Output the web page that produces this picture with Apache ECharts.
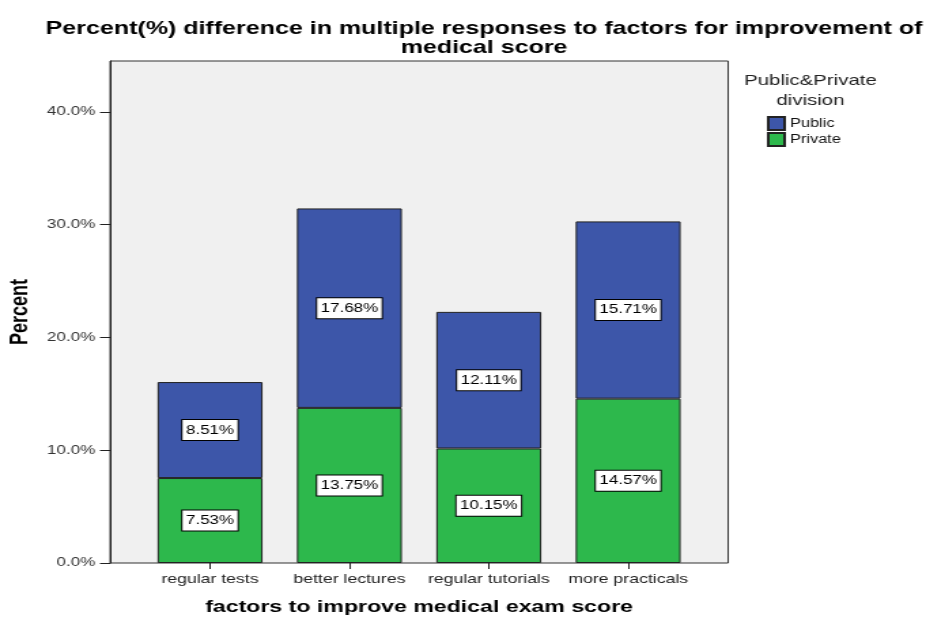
<!DOCTYPE html>
<html>
<head>
<meta charset="utf-8">
<script src="https://cdn.jsdelivr.net/npm/echarts@6/dist/echarts.min.js"></script>
<style>
  html, body { margin: 0; padding: 0; background: #ffffff; overflow: hidden; }
  /* The chart is laid out on a 681px-wide canvas and widened to 926px,
     which gives the broad, flattened lettering of the original export. */
  #chart { width: 681px; height: 619px; transform: scaleX(1.35977); transform-origin: 0 0; }
</style>
</head>
<body>
<div id="chart"></div>
<script>
// Factors named by respondents, with percent of responses per division
const categories = ['regular tests', 'better lectures', 'regular tutorials', 'more practicals'];
const privateValues = [7.53, 13.75, 10.15, 14.57];
const publicValues = [8.51, 17.68, 12.11, 15.71];
const yTicks = [0, 10, 20, 30, 40];

const FONT = '"Liberation Sans", Arial, sans-serif';
const Y_MAX = 44.5;

const segLabel = {
  show: true,
  position: 'inside',
  formatter: p => p.value.toFixed(2) + '%',
  color: '#000',
  fontFamily: FONT,
  fontSize: 12.5,
  backgroundColor: '#ffffff',
  borderColor: '#000',
  borderWidth: 1,
  padding: [4, 2.5, 3, 2.5]
};

const chart = echarts.init(document.getElementById('chart'), null, { renderer: 'canvas' });
chart.setOption({
  backgroundColor: '#ffffff',
  animation: false,
  textStyle: { fontFamily: FONT },
  title: [
    {
      text: 'Percent(%) difference in multiple responses to factors for improvement of\nmedical score',
      left: 351,
      top: 14,
      textAlign: 'center',
      textStyle: { fontFamily: FONT, fontSize: 18.4, fontWeight: 'bold', color: '#000', lineHeight: 19 }
    },
    {
      text: 'Public&Private\ndivision',
      left: 591,
      top: 66,
      textAlign: 'center',
      textStyle: { fontFamily: FONT, fontSize: 15, fontWeight: 'normal', color: '#222', lineHeight: 20 }
    }
  ],
  legend: {
    data: ['Public', 'Private'],
    orient: 'vertical',
    left: 559,
    top: 111,
    itemWidth: 12,
    itemHeight: 13,
    itemGap: 1,
    icon: 'rect',
    textStyle: { fontFamily: FONT, fontSize: 12, color: '#111', padding: [0, 0, 0, -1] }
  },
  grid: [
    {
      left: 81, top: 61, width: 454.5, height: 502,
      show: true, backgroundColor: '#f0f0f0', borderColor: '#333', borderWidth: 1,
      outerBoundsMode: 'none'
    },
    { left: 103.2, top: 61, width: 410, height: 502, outerBoundsMode: 'none' }
  ],
  xAxis: [
    { gridIndex: 0, type: 'value', min: 0, max: 1, show: false },
    {
      gridIndex: 1,
      type: 'category',
      data: categories,
      axisLine: { show: false },
      axisTick: { show: true, alignWithLabel: true, length: 6, lineStyle: { color: '#222' } },
      axisLabel: { interval: 0, color: '#222', fontFamily: FONT, fontSize: 13, margin: 10 },
      name: 'factors to improve medical exam score',
      nameLocation: 'middle',
      nameGap: 36,
      nameTextStyle: { fontFamily: FONT, fontSize: 17, fontWeight: 'bold', color: '#000' }
    }
  ],
  yAxis: [
    {
      gridIndex: 0,
      type: 'value',
      min: 0,
      max: Y_MAX,
      interval: 10,
      splitLine: { show: false },
      axisLine: { show: true, lineStyle: { color: '#222' } },
      axisTick: { show: true, length: 7.5, customValues: yTicks, lineStyle: { color: '#222' } },
      axisLabel: {
        customValues: yTicks,
        formatter: v => v.toFixed(1) + '%',
        color: '#333',
        fontFamily: FONT,
        fontSize: 12.5,
        margin: 11
      },
      name: 'Percent',
      nameLocation: 'middle',
      nameGap: 53,
      nameTextStyle: { fontFamily: FONT, fontSize: 18, fontWeight: 'bold', color: '#000' }
    },
    { gridIndex: 1, type: 'value', min: 0, max: Y_MAX, show: false }
  ],
  series: [
    {
      name: 'Private',
      type: 'bar',
      stack: 'total',
      xAxisIndex: 1,
      yAxisIndex: 1,
      barWidth: 77.2,
      data: privateValues,
      itemStyle: { color: '#2db84c', borderColor: '#222', borderWidth: 1 },
      label: segLabel
    },
    {
      name: 'Public',
      type: 'bar',
      stack: 'total',
      xAxisIndex: 1,
      yAxisIndex: 1,
      barWidth: 77.2,
      data: publicValues,
      itemStyle: { color: '#3d56a9', borderColor: '#222', borderWidth: 1 },
      label: segLabel
    }
  ]
});
</script>
</body>
</html>
